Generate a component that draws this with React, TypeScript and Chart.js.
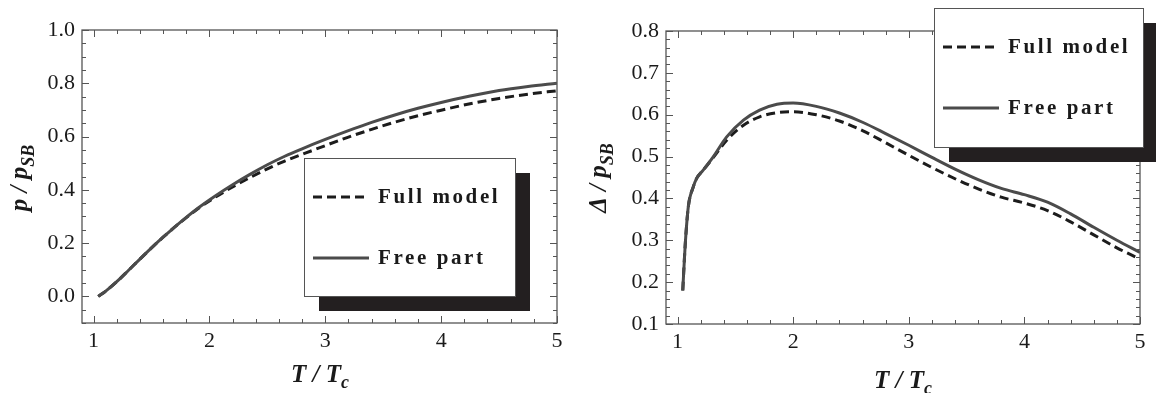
import React, { useEffect, useRef } from 'react';
import { Chart, registerables } from 'chart.js';

Chart.register(...registerables);

// ---------- data ----------
const seriesNames = ['Full model', 'Free part'];

// Left panel: p / p_SB versus T / T_c
const pressureT = [1.04, 1.1, 1.2, 1.3, 1.4, 1.5, 1.6, 1.75, 1.9, 2.05, 2.2, 2.35, 2.5, 2.65, 2.8, 3.0, 3.2, 3.4, 3.6, 3.8, 4.0, 4.25, 4.5, 4.75, 5.0];
const pressureFree = [0, 0.018, 0.055, 0.097, 0.14, 0.182, 0.222, 0.279, 0.331, 0.377, 0.419, 0.458, 0.494, 0.526, 0.554, 0.589, 0.622, 0.653, 0.681, 0.706, 0.728, 0.752, 0.773, 0.788, 0.8];
const pressureFull = [0, 0.018, 0.055, 0.097, 0.14, 0.182, 0.222, 0.278, 0.329, 0.372, 0.411, 0.446, 0.479, 0.508, 0.533, 0.566, 0.598, 0.627, 0.654, 0.678, 0.699, 0.723, 0.743, 0.759, 0.772];

// Right panel: Delta / p_SB versus T / T_c
const deltaT = [1.045, 1.065, 1.093, 1.136, 1.165, 1.22, 1.31, 1.425, 1.57, 1.71, 1.86, 2.0, 2.2, 2.4, 2.6, 2.8, 3.0, 3.2, 3.4, 3.6, 3.8, 4.0, 4.2, 4.4, 4.6, 4.8, 5.0];
const deltaFree = [0.18, 0.284, 0.38, 0.4275, 0.448, 0.467, 0.5, 0.547, 0.587, 0.611, 0.625, 0.628, 0.62, 0.604, 0.582, 0.555, 0.527, 0.498, 0.47, 0.445, 0.424, 0.409, 0.391, 0.363, 0.331, 0.3, 0.271];
const deltaFull = [0.18, 0.284, 0.38, 0.4275, 0.448, 0.467, 0.498, 0.539, 0.575, 0.595, 0.605, 0.607, 0.6, 0.585, 0.562, 0.533, 0.503, 0.474, 0.447, 0.423, 0.403, 0.389, 0.371, 0.344, 0.313, 0.282, 0.255];

// tick labels
const xTickLabels = ['1', '2', '3', '4', '5'];
const pressureYTickLabels = ['0.0', '0.2', '0.4', '0.6', '0.8', '1.0'];
const deltaYTickLabels = ['0.1', '0.2', '0.3', '0.4', '0.5', '0.6', '0.7', '0.8'];

// ---------- helpers ----------
const SERIF = '"Liberation Serif", "DejaVu Serif", serif';

type Part = { t: string; sub?: boolean };

function drawParts(ctx: CanvasRenderingContext2D, parts: Part[], size: number, subSize: number, subShift: number) {
  const mainFont = `italic bold ${size}px ${SERIF}`;
  const subFont = `italic bold ${subSize}px ${SERIF}`;
  let total = 0;
  for (const p of parts) {
    ctx.font = p.sub ? subFont : mainFont;
    total += ctx.measureText(p.t).width;
  }
  let x = -total / 2;
  ctx.textAlign = 'left';
  ctx.textBaseline = 'alphabetic';
  for (const p of parts) {
    ctx.font = p.sub ? subFont : mainFont;
    ctx.fillText(p.t, x, p.sub ? subShift : 0);
    x += ctx.measureText(p.t).width;
  }
}

function isMult(v: number, step: number) {
  const r = v / step;
  return Math.abs(r - Math.round(r)) < 1e-6;
}

type Deco = {
  xMajor: number;
  yMajor: number;
  xTitle: Part[];
  yTitle: Part[];
  xTitlePos: [number, number];
  yTitlePos: [number, number];
  legend: { x: number; y: number; w: number; h: number };
};

function makeDecoPlugin(d: Deco) {
  return {
    id: 'frameDeco',
    afterDraw(chart: any) {
      const ctx: CanvasRenderingContext2D = chart.ctx;
      const { left, right, top, bottom } = chart.chartArea;
      const xs = chart.scales.x;
      const ys = chart.scales.y;
      ctx.save();
      // frame
      ctx.strokeStyle = '#555555';
      ctx.lineWidth = 1.3;
      ctx.strokeRect(left, top, right - left, bottom - top);
      // inward ticks on all four sides
      ctx.lineWidth = 1;
      ctx.beginPath();
      for (const t of xs.ticks) {
        const v = t.value;
        if (v < xs.min - 1e-9 || v > xs.max + 1e-9) continue;
        const px = Math.round(xs.getPixelForValue(v)) + 0.5;
        const len = isMult(v, d.xMajor) ? 7 : 4;
        ctx.moveTo(px, bottom);
        ctx.lineTo(px, bottom - len);
        ctx.moveTo(px, top);
        ctx.lineTo(px, top + len);
      }
      for (const t of ys.ticks) {
        const v = t.value;
        if (v < ys.min - 1e-9 || v > ys.max + 1e-9) continue;
        const py = Math.round(ys.getPixelForValue(v)) + 0.5;
        const len = isMult(v, d.yMajor) ? 7 : 4;
        ctx.moveTo(left, py);
        ctx.lineTo(left + len, py);
        ctx.moveTo(right, py);
        ctx.lineTo(right - len, py);
      }
      ctx.stroke();

      // axis titles
      ctx.fillStyle = '#1a1a1a';
      ctx.save();
      ctx.translate(d.xTitlePos[0], d.xTitlePos[1]);
      drawParts(ctx, d.xTitle, 25, 18, 6);
      ctx.restore();
      ctx.save();
      ctx.translate(d.yTitlePos[0], d.yTitlePos[1]);
      ctx.rotate(-Math.PI / 2);
      drawParts(ctx, d.yTitle, 25, 18, 7);
      ctx.restore();

      // legend box with drop shadow
      const L = d.legend;
      ctx.fillStyle = '#231f20';
      ctx.fillRect(L.x + 15, L.y + 15, L.w, L.h);
      ctx.fillStyle = '#ffffff';
      ctx.fillRect(L.x, L.y, L.w, L.h);
      ctx.strokeStyle = '#555555';
      ctx.lineWidth = 1;
      ctx.strokeRect(L.x + 0.5, L.y + 0.5, L.w, L.h);
      const rows = [39, 100];
      chart.data.datasets.forEach((ds: any, i: number) => {
        const yy = L.y + rows[i];
        ctx.save();
        ctx.strokeStyle = ds.borderColor;
        ctx.lineWidth = ds.borderWidth;
        ctx.setLineDash(ds.borderDash || []);
        ctx.beginPath();
        ctx.moveTo(L.x + 9, yy);
        ctx.lineTo(L.x + 65, yy);
        ctx.stroke();
        ctx.restore();
        ctx.save();
        ctx.fillStyle = '#1a1a1a';
        ctx.font = `bold 21px ${SERIF}`;
        (ctx as any).letterSpacing = '2.6px';
        ctx.textAlign = 'left';
        ctx.textBaseline = 'middle';
        ctx.fillText(ds.label, L.x + 74, yy + 1);
        ctx.restore();
      });
      ctx.restore();
    },
  };
}

type PanelCfg = {
  xs: number[];
  full: number[];
  free: number[];
  yMin: number;
  yMax: number;
  yStep: number;
  yMajor: number;
  yLabels: string[];
  area: { left: number; right: number; top: number; bottom: number };
  deco: Deco;
};

function buildConfig(c: PanelCfg, width: number, height: number): any {
  const toPts = (ys: number[]) => c.xs.map((x, i) => ({ x, y: ys[i] }));
  return {
    type: 'line',
    data: {
      datasets: [
        {
          label: seriesNames[0],
          data: toPts(c.full),
          borderColor: '#1c1c1c',
          borderWidth: 3,
          borderDash: [9, 5],
          pointRadius: 0,
          fill: false,
          cubicInterpolationMode: 'monotone',
          order: 1,
        },
        {
          label: seriesNames[1],
          data: toPts(c.free),
          borderColor: '#4b4b4b',
          borderWidth: 3,
          pointRadius: 0,
          fill: false,
          cubicInterpolationMode: 'monotone',
          order: 0,
        },
      ],
    },
    options: {
      animation: false,
      responsive: false,
      maintainAspectRatio: false,
      devicePixelRatio: 1,
      layout: {
        padding: { left: 0, top: c.area.top, right: width - c.area.right, bottom: 0 },
      },
      plugins: { legend: { display: false }, tooltip: { enabled: false }, title: { display: false } },
      scales: {
        x: {
          type: 'linear',
          min: 0.9,
          max: 5,
          grid: { display: false, drawTicks: false },
          border: { display: false },
          afterFit: (s: any) => {
            s.height = height - c.area.bottom;
          },
          ticks: {
            stepSize: 0.2,
            autoSkip: false,
            includeBounds: false,
            maxRotation: 0,
            padding: 5,
            color: '#1a1a1a',
            font: { family: SERIF, size: 22 },
            callback: (v: any) => {
              const s = String(Math.round(Number(v) * 1000) / 1000);
              return xTickLabels.includes(s) ? s : '';
            },
          },
        },
        y: {
          type: 'linear',
          min: c.yMin,
          max: c.yMax,
          grid: { display: false, drawTicks: false },
          border: { display: false },
          afterFit: (s: any) => {
            s.width = c.area.left;
          },
          ticks: {
            stepSize: c.yStep,
            autoSkip: false,
            includeBounds: false,
            padding: 7,
            color: '#1a1a1a',
            font: { family: SERIF, size: 22 },
            callback: (v: any) => {
              const s = Number(v).toFixed(1);
              return isMult(Number(v), c.yMajor) && c.yLabels.includes(s) ? s : '';
            },
          },
        },
      },
    },
    plugins: [makeDecoPlugin(c.deco)],
  };
}

const W = 578;
const H = 393;

const leftPanel: PanelCfg = {
  xs: pressureT,
  full: pressureFull,
  free: pressureFree,
  yMin: -0.1,
  yMax: 1.0,
  yStep: 0.05,
  yMajor: 0.2,
  yLabels: pressureYTickLabels,
  area: { left: 82, right: 557, top: 30, bottom: 323 },
  deco: {
    xMajor: 1,
    yMajor: 0.2,
    xTitle: [{ t: 'T / T' }, { t: 'c', sub: true }],
    yTitle: [{ t: 'p / p' }, { t: 'SB', sub: true }],
    xTitlePos: [320, 382],
    yTitlePos: [27, 178],
    legend: { x: 304, y: 158, w: 211, h: 138 },
  },
};

const rightPanel: PanelCfg = {
  xs: deltaT,
  full: deltaFull,
  free: deltaFree,
  yMin: 0.1,
  yMax: 0.8,
  yStep: 0.02,
  yMajor: 0.1,
  yLabels: deltaYTickLabels,
  area: { left: 88, right: 562, top: 31, bottom: 324 },
  deco: {
    xMajor: 1,
    yMajor: 0.1,
    xTitle: [{ t: 'T / T' }, { t: 'c', sub: true }],
    yTitle: [{ t: '\u0394 / p' }, { t: 'SB', sub: true }],
    xTitlePos: [325, 388],
    yTitlePos: [28, 178],
    legend: { x: 356, y: 8, w: 209, h: 139 },
  },
};

function Panel({ cfg, left }: { cfg: PanelCfg; left: number }) {
  const ref = useRef<HTMLCanvasElement | null>(null);
  useEffect(() => {
    if (!ref.current) return;
    const chart = new Chart(ref.current, buildConfig(cfg, W, H));
    return () => chart.destroy();
  }, [cfg]);
  return (
    <canvas
      ref={ref}
      width={W}
      height={H}
      style={{ position: 'absolute', left, top: 0, width: W, height: H }}
    />
  );
}

export default function App() {
  return (
    <div style={{ position: 'absolute', left: 0, top: 0, width: 1156, height: 393, background: '#ffffff', overflow: 'hidden' }}>
      <Panel cfg={leftPanel} left={0} />
      <Panel cfg={rightPanel} left={578} />
    </div>
  );
}
